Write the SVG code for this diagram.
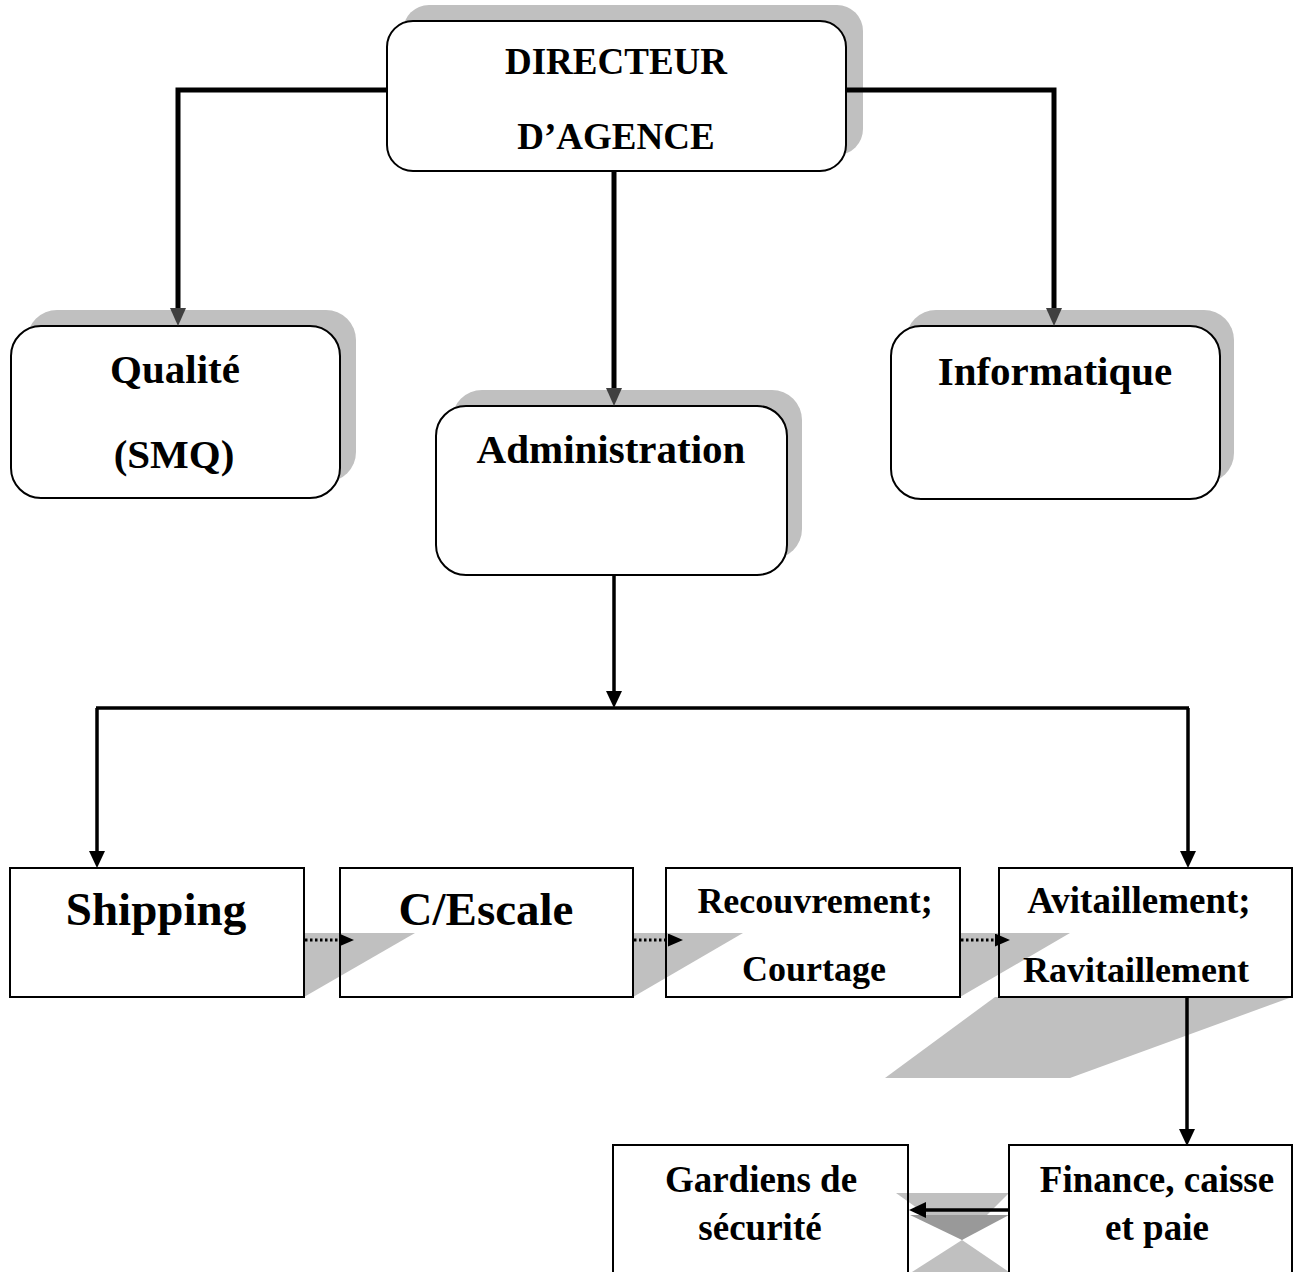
<svg xmlns="http://www.w3.org/2000/svg" width="1309" height="1272" viewBox="0 0 1309 1272">
<style>
.t{font-family:"Liberation Serif","Times New Roman",serif;font-weight:bold;fill:#000;text-anchor:middle}
.rb{fill:#fff;stroke:#000;stroke-width:2}
.sh{fill:#c0c0c0}
.bx{fill:none;stroke:#000;stroke-width:2}
.c5{stroke:#000;stroke-width:5;fill:none}
.c3{stroke:#000;stroke-width:3.5;fill:none}
.dot{stroke:#000;stroke-width:3;stroke-dasharray:2.5 2.5;fill:none}
</style>
<defs>
<marker id="ag" markerUnits="userSpaceOnUse" markerWidth="18" markerHeight="16" refX="0" refY="8" orient="auto"><path d="M0,0 L18,8 L0,16 z" fill="#404040"/></marker>
<marker id="ab" markerUnits="userSpaceOnUse" markerWidth="17" markerHeight="16" refX="0" refY="8" orient="auto"><path d="M0,0 L17,8 L0,16 z" fill="#000"/></marker>
<marker id="ad" markerUnits="userSpaceOnUse" markerWidth="15" markerHeight="13" refX="0" refY="6.5" orient="auto"><path d="M0,0 L15,6.5 L0,13 z" fill="#000"/></marker>
</defs>
<rect width="1309" height="1272" fill="#fff"/>

<g id="shadows">
<polygon class="sh" points="304,933 415,933 304,997"/>
<polygon class="sh" points="633,933 743,933 633,997"/>
<polygon class="sh" points="960,933 1070,933 960,997"/>
<polygon class="sh" points="999,997 1292,997 1070,1078 885,1078 995,997"/>
<polygon class="sh" points="896,1193 1009,1193 962,1240"/>
<polygon class="sh" points="962,1240 1009,1272 912,1272"/>
<polygon fill="#999" points="910,1215 1009,1215 962,1240"/>
</g>

<g id="directeur">
<rect class="sh" x="403" y="5" width="460" height="150" rx="26"/>
<rect class="rb" x="387" y="21" width="459" height="150" rx="26"/>
<text class="t" x="616" y="74" font-size="37">DIRECTEUR</text>
<text class="t" x="616" y="149" font-size="37">D’AGENCE</text>
</g>

<g id="qualite">
<rect class="sh" x="27" y="310" width="329" height="172" rx="30"/>
<rect class="rb" x="11" y="326" width="329" height="172" rx="30"/>
<text class="t" x="175" y="383" font-size="41">Qualité</text>
<text class="t" x="174" y="468" font-size="41">(SMQ)</text>
</g>

<g id="administration">
<rect class="sh" x="452" y="390" width="350" height="169" rx="30"/>
<rect class="rb" x="436" y="406" width="351" height="169" rx="30"/>
<text class="t" x="611" y="463" font-size="41">Administration</text>
</g>

<g id="informatique">
<rect class="sh" x="906" y="310" width="328" height="173" rx="30"/>
<rect class="rb" x="891" y="326" width="329" height="173" rx="30"/>
<text class="t" x="1055" y="385" font-size="41">Informatique</text>
</g>

<g id="shipping">
<rect class="bx" x="10" y="868" width="294" height="129"/>
<text class="t" x="156" y="925" font-size="47">Shipping</text>
</g>

<g id="cescale">
<rect class="bx" x="340" y="868" width="293" height="129"/>
<text class="t" x="486" y="925" font-size="47">C/Escale</text>
</g>

<g id="recouvrement">
<rect class="bx" x="666" y="868" width="294" height="129"/>
<text class="t" x="815" y="913" font-size="36">Recouvrement;</text>
<text class="t" x="814" y="981" font-size="36">Courtage</text>
</g>

<g id="avitaillement">
<rect class="bx" x="999" y="868" width="293" height="129"/>
<text class="t" x="1139" y="913" font-size="37">Avitaillement;</text>
<text class="t" x="1136" y="982" font-size="36">Ravitaillement</text>
</g>

<g id="finance">
<rect class="bx" x="1009" y="1145" width="283" height="140"/>
<text class="t" x="1157" y="1192" font-size="37">Finance, caisse</text>
<text class="t" x="1157" y="1240" font-size="37">et paie</text>
</g>

<g id="gardiens">
<rect class="bx" x="613" y="1145" width="295" height="140"/>
<text class="t" x="761" y="1192" font-size="37">Gardiens de</text>
<text class="t" x="760" y="1240" font-size="37">sécurité</text>
</g>

<g id="connectors">
<path class="c5" d="M387,90 H178 V308" marker-end="url(#ag)"/>
<path class="c5" d="M846,90 H1054 V308" marker-end="url(#ag)"/>
<path class="c5" d="M614,171 V388" marker-end="url(#ag)"/>
<path class="c3" d="M614,575 V691" marker-end="url(#ab)"/>
<path class="c3" d="M96,708 H1189"/>
<path class="c3" d="M97,708 V851" marker-end="url(#ab)"/>
<path class="c3" d="M1188,708 V851" marker-end="url(#ab)"/>
<path class="c3" d="M1187,997 V1129" marker-end="url(#ab)"/>
<path class="c3" d="M1008,1210 H926" marker-end="url(#ab)"/>
<path class="dot" d="M305,940 H339" marker-end="url(#ad)"/>
<path class="dot" d="M634,940 H668" marker-end="url(#ad)"/>
<path class="dot" d="M961,940 H995" marker-end="url(#ad)"/>
</g>
</svg>
